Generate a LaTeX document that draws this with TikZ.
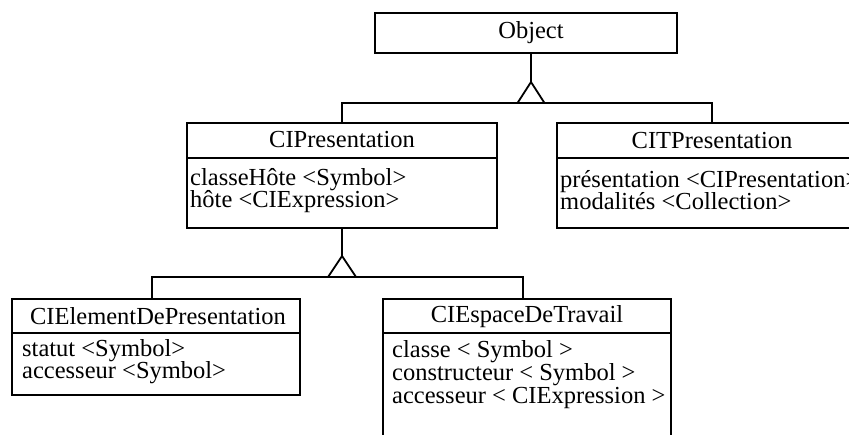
\documentclass[tikz,border=0pt]{standalone}
\usepackage{fontspec}
\setmainfont{Liberation Serif}
\begin{document}
\begin{tikzpicture}[x=1pt,y=-1pt,
  cls/.style={draw=black,line width=1.8pt,fill=white,rectangle,inner sep=0pt,outer sep=0pt,anchor=north west},
  sep/.style={draw=black,line width=1.8pt},
  conn/.style={draw=black,line width=1.8pt},
  tri/.style={draw=black,line width=1.8pt,fill=white,line join=miter},
  ttl/.style={inner sep=0pt,anchor=base,text height=16pt,text depth=4pt,font=\fontsize{24.5}{27}\selectfont},
  att/.style={inner sep=0pt,anchor=base west,text height=16pt,text depth=4pt,font=\fontsize{24.5}{27}\selectfont}]
\fill[white] (0,0) rectangle (849,435);
\useasboundingbox (0,0) rectangle (849,435);
\clip (0,0) rectangle (849,435);

% boxes
\node[cls,minimum width=302pt,minimum height=40pt] (obj) at (375,13) {};
\node[cls,minimum width=310pt,minimum height=105pt] (cip) at (187,123) {};
\node[cls,minimum width=310pt,minimum height=105pt] (cit) at (557,123) {};
\node[cls,minimum width=288pt,minimum height=96pt] (elt) at (12,299) {};
\node[cls,minimum width=288pt,minimum height=150pt] (esp) at (383,299) {};

% dividers
\draw[sep] (187,158) -- (497,158);
\draw[sep] (557,158) -- (867,158);
\draw[sep] (12,333) -- (300,333);
\draw[sep] (383,333) -- (671,333);

% texts
\node[ttl] (objT) at (531,39) {Object};
\node[ttl] (cipT) at (342,148) {CIPresentation};
\node[att] (cipA1) at (190,186) {classeHôte <Symbol>};
\node[att] (cipA2) at (190,208) {hôte <CIExpression>};
\node[ttl] (citT) at (712,149) {CITPresentation};
\node[att] (citA1) at (560,188) {présentation <CIPresentation>};
\node[att] (citA2) at (560,210) {modalités <Collection>};
\node[ttl] (eltT) at (158,325) {CIElementDePresentation};
\node[att] (eltA1) at (22,357) {statut <Symbol>};
\node[att] (eltA2) at (22,379) {accesseur <Symbol>};
\node[ttl] (espT) at (527,323) {CIEspaceDeTravail};
\node[att] (espA1) at (392,358) {classe < Symbol >};
\node[att] (espA2) at (392,381) {constructeur < Symbol >};
\node[att] (espA3) at (392,404) {accesseur < CIExpression >};

% generalisation 1
\coordinate (t1) at (531,82);
\coordinate (b1) at (531,103);
\draw[conn] (obj.south -| t1) -- (t1);
\draw[conn] (cip.north -| 342,0) |- (b1) -| (cit.north -| 712,0);
\draw[tri] (t1) -- ++(-13.5,21) -- ++(27,0) -- cycle;

% generalisation 2
\coordinate (t2) at (342,256);
\coordinate (b2) at (342,277);
\draw[conn] (cip.south) -- (t2);
\draw[conn] (elt.north -| 152,0) |- (b2) -| (esp.north -| 523,0);
\draw[tri] (t2) -- ++(-14,21) -- ++(28,0) -- cycle;
\end{tikzpicture}
\end{document}
